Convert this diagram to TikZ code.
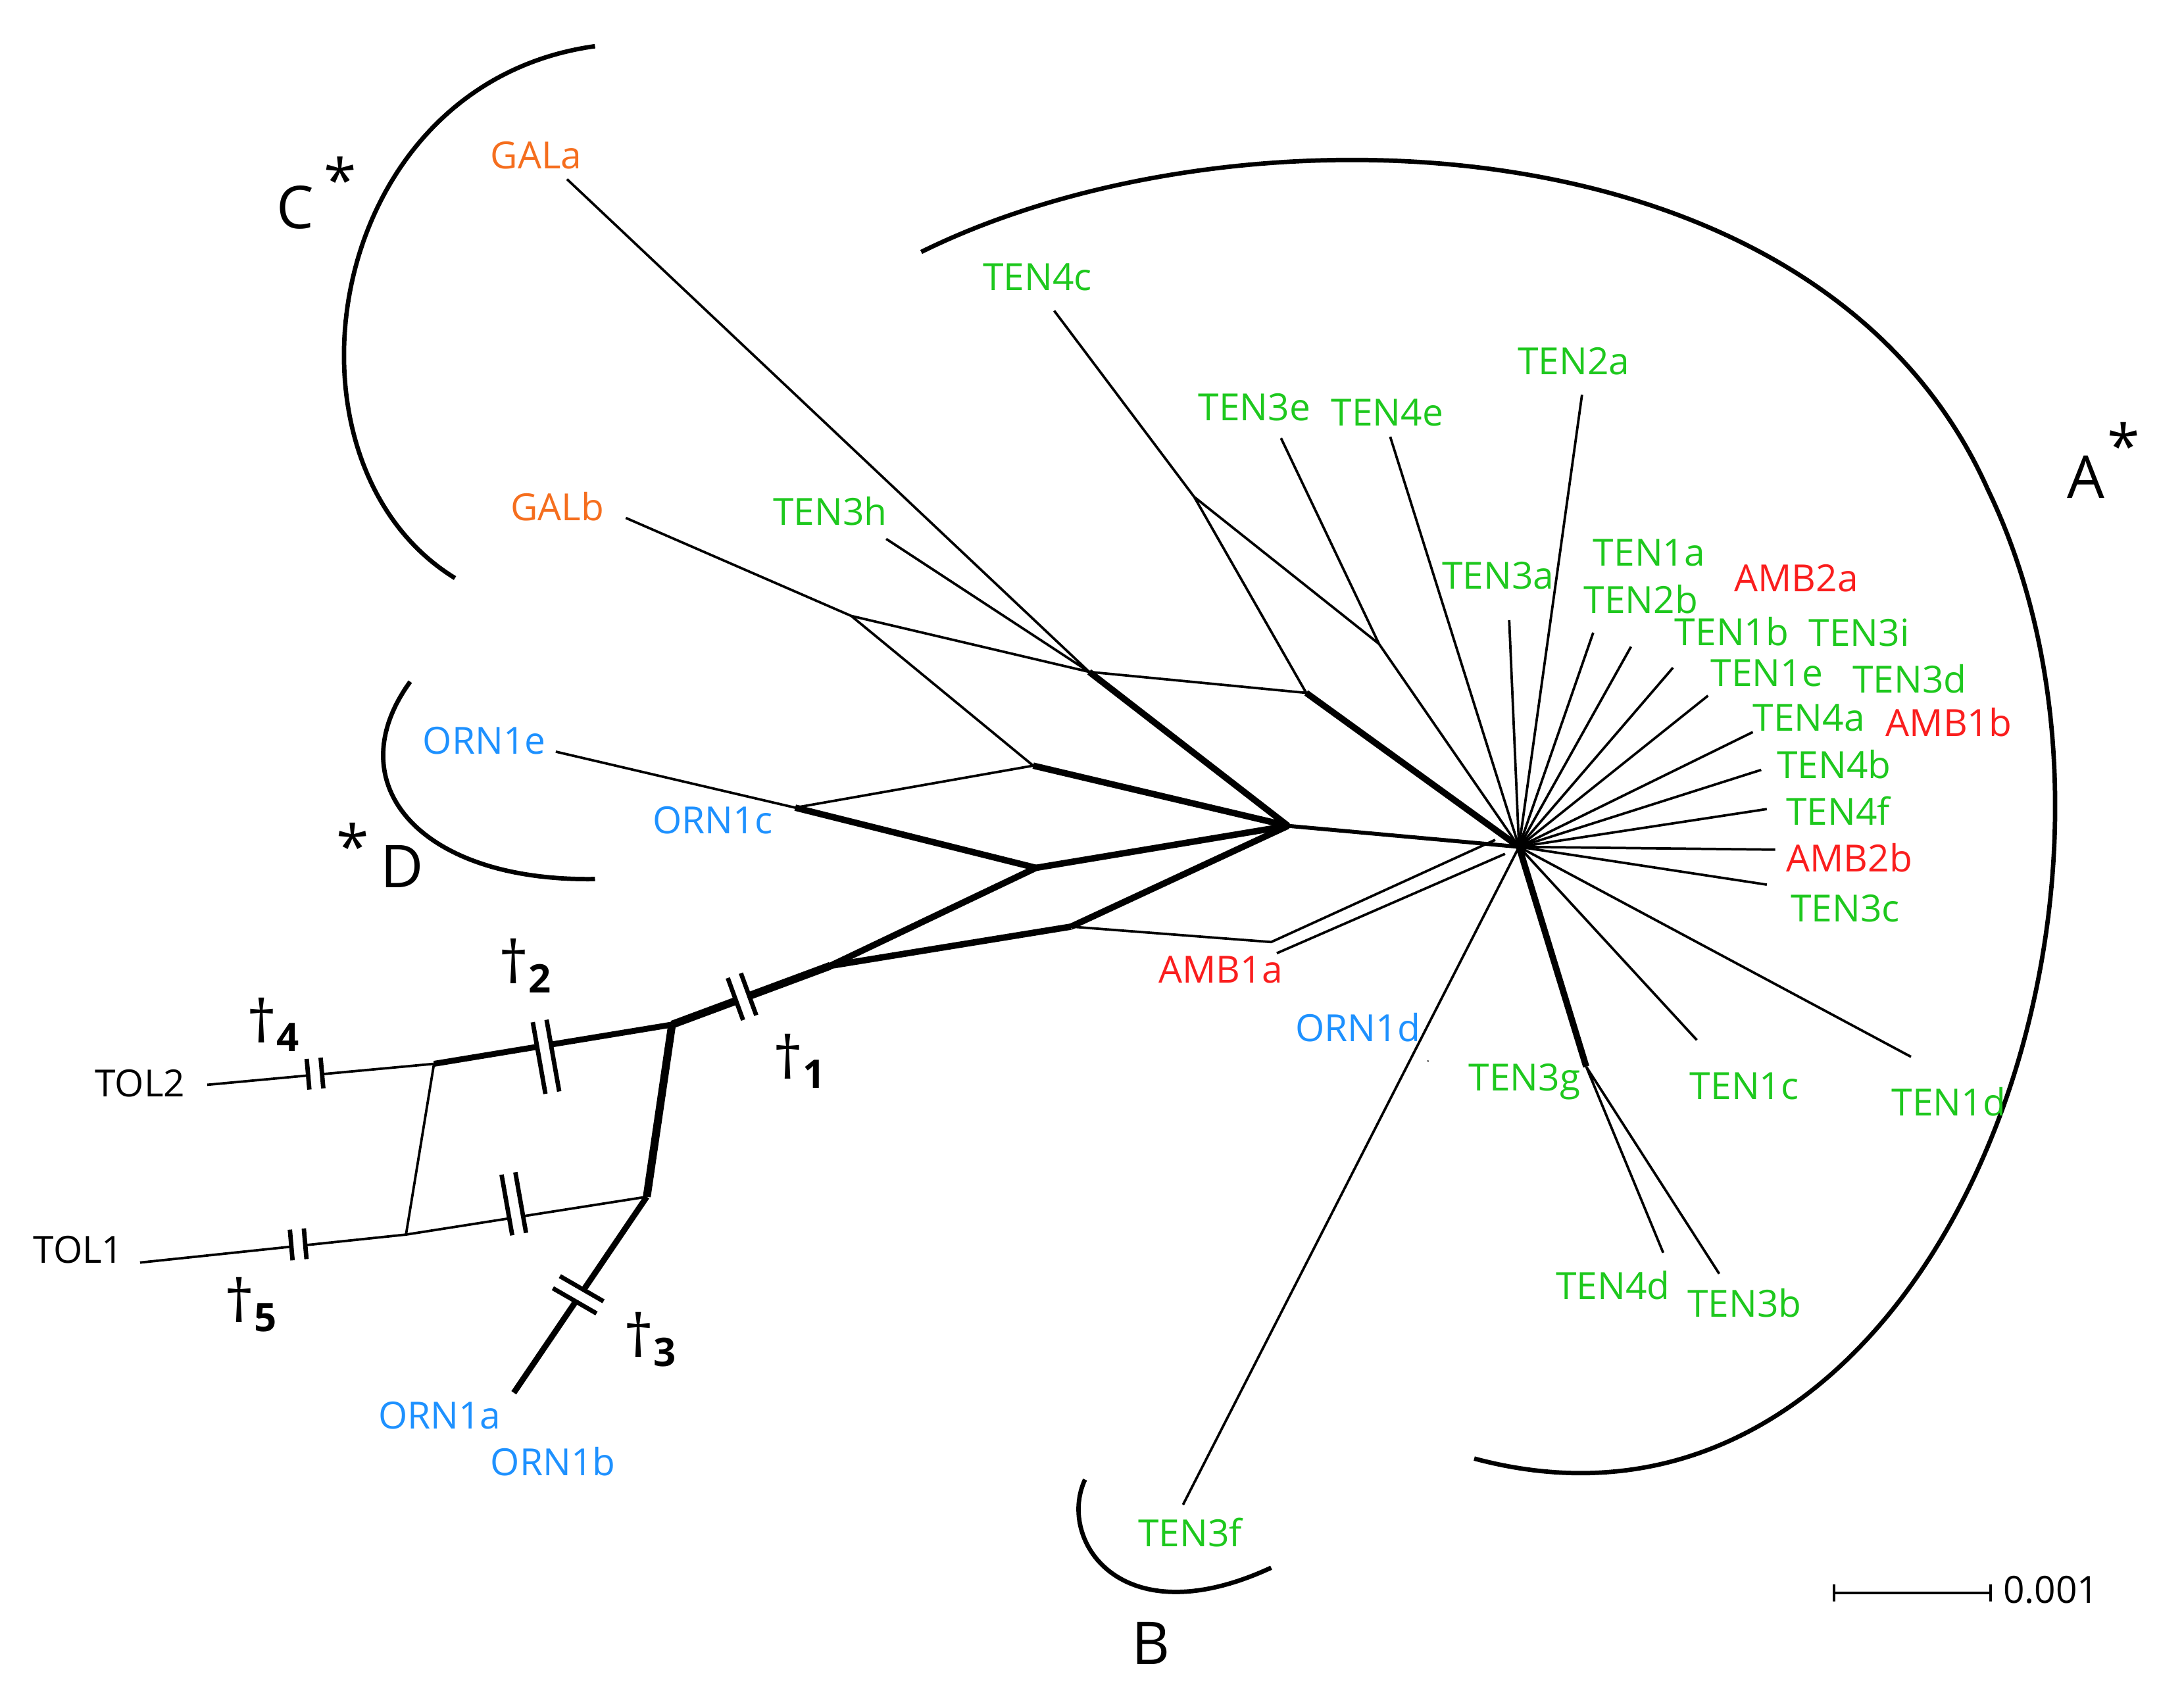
\documentclass[tikz,border=0pt]{standalone}
\usepackage{fontspec}
\setmainfont{Open Sans}
\begin{document}
\definecolor{tg}{RGB}{30,200,30}
\definecolor{to}{RGB}{245,110,30}
\definecolor{tb}{RGB}{30,145,255}
\definecolor{tr}{RGB}{250,30,30}
\newcommand{\brk}[4]{\begin{scope}[shift={(#1,#2)},rotate=#3]
\fill[white] (-6,-#4) rectangle (6,#4);
\draw[line width=0.9pt] (-5,-#4)--(-5,#4) (5,-#4)--(5,#4);\end{scope}}
\begin{tikzpicture}[x=0.01cm,y=-0.01cm,line width=0.5pt,
 lb/.style={font=\fontsize{7.6}{9}\selectfont,inner sep=0pt},
 g/.style={lb,text=tg}, o/.style={lb,text=to}, b/.style={lb,text=tb}, r/.style={lb,text=tr},
 k/.style={lb,text=black}, big/.style={font=\fontsize{12}{13}\selectfont,inner sep=0pt},
 thk/.style={line width=1.3pt}]
\useasboundingbox (0,0) rectangle (1560,1205);
\coordinate (H) at (1085,605); \coordinate (C) at (920,590);
\coordinate (n1) at (778,480); \coordinate (n2) at (933,495); \coordinate (n3) at (853,355);
\coordinate (n4) at (985,460); \coordinate (n5) at (608,440); \coordinate (n6) at (738,547);
\coordinate (n7) at (568,577); \coordinate (n8) at (740,620); \coordinate (n9) at (765,662);
\coordinate (n10) at (908,673); \coordinate (n11) at (593,690); \coordinate (n12) at (480,732);
\coordinate (n13) at (310,760); \coordinate (n14) at (462,855); \coordinate (n15) at (290,882);
\coordinate (n16) at (1133,762);
\foreach \p in {(1138,452),(1165,462),(1195,477),(1220,497),(1252,523),(1258,550),(1262,578),(1268,607),(1262,632),(1212,743),(1365,755),(1078,443),(1130,282),(993,312),(845,1075)}
 \draw (H)--\p;
\draw[thk] (H)--(n16); \draw (n16)--(1188,895) (n16)--(1228,910);
\draw[line width=0.8pt] (H)--(C);
\draw (405,128)--(n1) (633,385)--(n1) (447,370)--(n5)--(n1) (n5)--(n6);
\draw[thk] (n1)--(C); \draw (n1)--(n2); \draw[thk] (n2)--(H);
\draw (753,222)--(n3)--(n2) (n3)--(n4)--(H) (915,313)--(n4);
\draw (397,537)--(n7)--(n6); \draw[thk] (n6)--(C) (n7)--(n8); \draw[thk] (n8)--(C);
\draw[thk] (n8)--(n11) (n9)--(C); \draw[thk] (n11)--(n9);
\draw (n9)--(n10)--(1068,600) (n10)++(4,8)--(1075,610);
\draw[line width=1.6pt] (n11)--(n12);
\draw[line width=1.2pt] (n12)--(n13); \draw (n13)--(148,775);
\draw[line width=1.6pt] (n12)--(n14); \draw (n14)--(n15)--(100,902); \draw (n13)--(n15);
\draw[line width=1.2pt] (n14)--(367,995);
\fill (1020,758) circle (0.6);
\brk{530}{712}{20}{16}
\brk{390}{755}{10}{26}
\brk{225}{767}{5}{11}
\brk{367}{860}{10}{22}
\brk{213}{889}{5}{11}
\brk{413}{925}{60}{18}
\draw[line width=0.9pt] (425,33) .. controls (230,60) and (190,330) .. (325,413);
\draw[line width=0.9pt] (293,487) .. controls (240,560) and (300,630) .. (425,628);
\draw[line width=0.9pt] (775,1057) .. controls (755,1100) and (800,1170) .. (908,1120);
\draw[line width=0.9pt] (658,180) .. controls (880,70) and (1300,80) .. (1420,350)
  .. controls (1560,640) and (1380,1130) .. (1053,1042);
\node[o] at (383,111) {GALa}; \node[o] at (398,362) {GALb};
\node[g] at (741,198) {TEN4c}; \node[g] at (593,365) {TEN3h};
\node[g] at (896,291) {TEN3e}; \node[g] at (991,295) {TEN4e};
\node[g] at (1124,258) {TEN2a}; \node[g] at (1070,411) {TEN3a};
\node[g] at (1178,395) {TEN1a}; \node[g] at (1172,428) {TEN2b};
\node[r] at (1283,413) {AMB2a}; \node[g] at (1237,451) {TEN1b};
\node[g] at (1328,452) {TEN3i}; \node[g] at (1262,481) {TEN1e};
\node[g] at (1364,485) {TEN3d}; \node[g] at (1292,513) {TEN4a};
\node[r] at (1392,516) {AMB1b}; \node[g] at (1310,546) {TEN4b};
\node[g] at (1313,579) {TEN4f}; \node[r] at (1321,613) {AMB2b};
\node[g] at (1318,649) {TEN3c}; \node[g] at (1246,776) {TEN1c};
\node[g] at (1392,787) {TEN1d}; \node[g] at (1089,773) {TEN3g};
\node[g] at (1152,918) {TEN4d}; \node[g] at (1246,931) {TEN3b};
\node[g] at (850,1095) {TEN3f}; \node[b] at (970,734) {ORN1d};
\node[r] at (872,693) {AMB1a}; \node[b] at (346,529) {ORN1e};
\node[b] at (509,586) {ORN1c}; \node[b] at (314,1011) {ORN1a};
\node[b] at (395,1044) {ORN1b}; \node[k] at (100,774) {TOL2};
\node[k] at (56,893) {TOL1};
\node[big] at (211,148) {C}; \node[big] at (243,128) {*};
\node[big] at (1490,341) {A}; \node[big] at (1517,318) {*};
\node[big] at (252,604) {*}; \node[big] at (287,619) {D};
\node[big] at (822,1174) {B};
\node[big] at (376,690) {†\textsubscript{\bfseries 2}};
\node[big] at (196,732) {†\textsubscript{\bfseries 4}};
\node[big] at (572,758) {†\textsubscript{\bfseries 1}};
\node[big] at (180,932) {†\textsubscript{\bfseries 5}};
\node[big] at (465,957) {†\textsubscript{\bfseries 3}};
\draw (1310,1138)--(1422,1138) (1310,1132)--(1310,1144) (1422,1132)--(1422,1144);
\node[k,anchor=west] at (1430,1136) {0.001};
\end{tikzpicture}
\end{document}
